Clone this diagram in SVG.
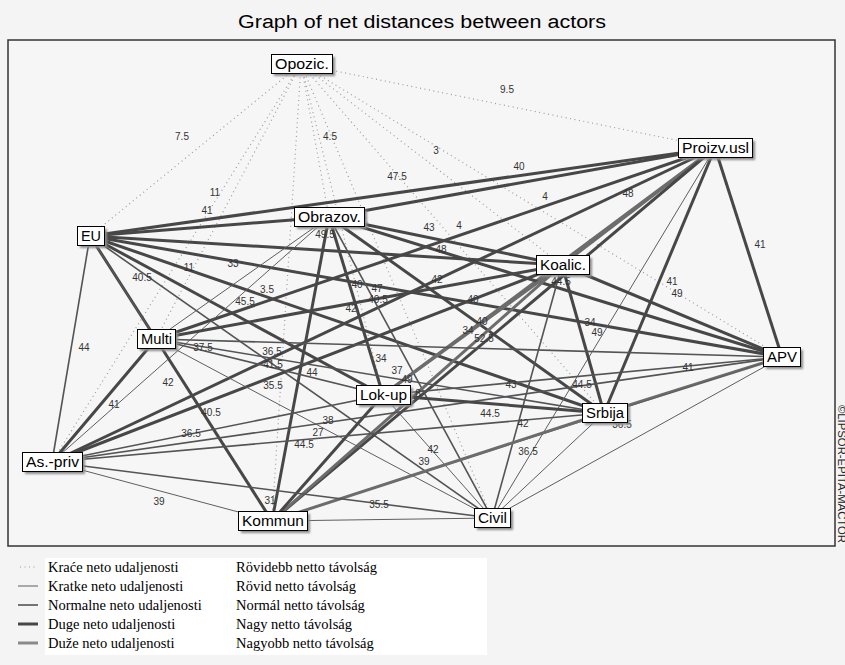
<svg xmlns="http://www.w3.org/2000/svg" width="845" height="665" viewBox="0 0 845 665">
<defs>
<style>
.d{stroke:#9c9c9c;stroke-width:1.2;stroke-dasharray:1 3.5;fill:none}
.t{stroke:#5e5e5e;stroke-width:1;fill:none}
.n{stroke:#545454;stroke-width:1.6;fill:none}
.k{stroke:#474747;stroke-width:3;fill:none}
.g{stroke:#6c6c6c;stroke-width:3;fill:none}
.lb{font-family:"Liberation Sans",Arial,sans-serif;font-size:10px;fill:#333;text-anchor:middle}
.nb rect.b{fill:#fff;stroke:#000;stroke-width:1}
.nb rect.s{fill:#8c8c8c;filter:url(#bl)}
.nb text{font-family:"Liberation Sans",Arial,sans-serif;font-size:14px;fill:#000}
.lg{font-family:"Liberation Serif","Times New Roman",serif;font-size:14.5px;fill:#000}
</style>
<filter id="bl" x="-20%" y="-40%" width="140%" height="180%"><feGaussianBlur stdDeviation="0.8"/></filter>
</defs>
<rect x="0" y="0" width="845" height="665" fill="#f4f4f4"/>
<text x="422" y="28" font-family="Liberation Sans,Arial,sans-serif" font-size="18" text-anchor="middle" textLength="368" lengthAdjust="spacingAndGlyphs" fill="#000">Graph of net distances between actors</text>
<rect x="8" y="40" width="827" height="506" fill="#f6f6f6" stroke="#333" stroke-width="1.5"/>
<g id="connectors">
<line class="d" x1="301" y1="64" x2="715" y2="148"/>
<line class="d" x1="301" y1="64" x2="90" y2="236"/>
<line class="d" x1="301" y1="64" x2="329" y2="217"/>
<line class="d" x1="301" y1="64" x2="562" y2="265"/>
<line class="d" x1="301" y1="64" x2="156" y2="339"/>
<line class="d" x1="301" y1="64" x2="782" y2="357"/>
<line class="d" x1="301" y1="64" x2="383" y2="395"/>
<line class="d" x1="301" y1="64" x2="604" y2="413"/>
<line class="d" x1="301" y1="64" x2="52" y2="462"/>
<line class="d" x1="301" y1="64" x2="272" y2="521"/>
<line class="d" x1="301" y1="64" x2="492" y2="518"/>
<line class="k" x1="90" y1="236" x2="715" y2="148"/>
<line class="k" x1="90" y1="236" x2="329" y2="217"/>
<line class="k" x1="90" y1="236" x2="562" y2="265"/>
<line class="k" x1="90" y1="236" x2="156" y2="339"/>
<line class="k" x1="90" y1="236" x2="782" y2="357"/>
<line class="k" x1="90" y1="236" x2="383" y2="395"/>
<line class="k" x1="90" y1="236" x2="604" y2="413"/>
<line class="n" x1="90" y1="236" x2="52" y2="462"/>
<line class="t" x1="90" y1="236" x2="272" y2="521"/>
<line class="n" x1="90" y1="236" x2="492" y2="518"/>
<line class="k" x1="715" y1="148" x2="329" y2="217"/>
<line class="g" x1="715" y1="148" x2="562" y2="265"/>
<line class="k" x1="715" y1="148" x2="156" y2="339"/>
<line class="k" x1="715" y1="148" x2="782" y2="357"/>
<line class="g" x1="715" y1="148" x2="383" y2="395"/>
<line class="k" x1="715" y1="148" x2="604" y2="413"/>
<line class="k" x1="715" y1="148" x2="52" y2="462"/>
<line class="k" x1="715" y1="148" x2="272" y2="521"/>
<line class="t" x1="715" y1="148" x2="492" y2="518"/>
<line class="k" x1="329" y1="217" x2="562" y2="265"/>
<line class="t" x1="329" y1="217" x2="156" y2="339"/>
<line class="k" x1="329" y1="217" x2="782" y2="357"/>
<line class="k" x1="329" y1="217" x2="383" y2="395"/>
<line class="k" x1="329" y1="217" x2="604" y2="413"/>
<line class="t" x1="329" y1="217" x2="52" y2="462"/>
<line class="k" x1="329" y1="217" x2="272" y2="521"/>
<line class="n" x1="329" y1="217" x2="492" y2="518"/>
<line class="k" x1="562" y1="265" x2="156" y2="339"/>
<line class="k" x1="562" y1="265" x2="782" y2="357"/>
<line class="g" x1="562" y1="265" x2="383" y2="395"/>
<line class="k" x1="562" y1="265" x2="604" y2="413"/>
<line class="k" x1="562" y1="265" x2="52" y2="462"/>
<line class="g" x1="562" y1="265" x2="272" y2="521"/>
<line class="n" x1="562" y1="265" x2="492" y2="518"/>
<line class="n" x1="156" y1="339" x2="782" y2="357"/>
<line class="n" x1="156" y1="339" x2="383" y2="395"/>
<line class="n" x1="156" y1="339" x2="604" y2="413"/>
<line class="k" x1="156" y1="339" x2="52" y2="462"/>
<line class="k" x1="156" y1="339" x2="272" y2="521"/>
<line class="t" x1="156" y1="339" x2="492" y2="518"/>
<line class="n" x1="782" y1="357" x2="383" y2="395"/>
<line class="g" x1="782" y1="357" x2="604" y2="413"/>
<line class="n" x1="782" y1="357" x2="52" y2="462"/>
<line class="t" x1="782" y1="357" x2="272" y2="521"/>
<line class="t" x1="782" y1="357" x2="492" y2="518"/>
<line class="k" x1="383" y1="395" x2="604" y2="413"/>
<line class="n" x1="383" y1="395" x2="52" y2="462"/>
<line class="k" x1="383" y1="395" x2="272" y2="521"/>
<line class="t" x1="383" y1="395" x2="492" y2="518"/>
<line class="n" x1="604" y1="413" x2="52" y2="462"/>
<line class="g" x1="604" y1="413" x2="272" y2="521"/>
<line class="t" x1="604" y1="413" x2="492" y2="518"/>
<line class="t" x1="52" y1="462" x2="272" y2="521"/>
<line class="n" x1="52" y1="462" x2="492" y2="518"/>
<line class="t" x1="272" y1="521" x2="492" y2="518"/>
</g>
<g id="edge-labels">
<text class="lb" x="182" y="140">7.5</text>
<text class="lb" x="507" y="93">9.5</text>
<text class="lb" x="330" y="140">4.5</text>
<text class="lb" x="397" y="180">47.5</text>
<text class="lb" x="436" y="154">3</text>
<text class="lb" x="519" y="170">40</text>
<text class="lb" x="215" y="196">11</text>
<text class="lb" x="207" y="214">41</text>
<text class="lb" x="545" y="200">4</text>
<text class="lb" x="628" y="197">48</text>
<text class="lb" x="429" y="231">43</text>
<text class="lb" x="459" y="229">4</text>
<text class="lb" x="441" y="253">48</text>
<text class="lb" x="325" y="238">49.5</text>
<text class="lb" x="760" y="248">41</text>
<text class="lb" x="142" y="281">40.5</text>
<text class="lb" x="189" y="271">11</text>
<text class="lb" x="233" y="267">33</text>
<text class="lb" x="267" y="293">3.5</text>
<text class="lb" x="245" y="305">45.5</text>
<text class="lb" x="357" y="288">40</text>
<text class="lb" x="377" y="292">47</text>
<text class="lb" x="378" y="303">40.5</text>
<text class="lb" x="351" y="312">42</text>
<text class="lb" x="437" y="283">42</text>
<text class="lb" x="561" y="285">44.5</text>
<text class="lb" x="473" y="303">40</text>
<text class="lb" x="482" y="325">40</text>
<text class="lb" x="468" y="334">34</text>
<text class="lb" x="484" y="342">52.5</text>
<text class="lb" x="672" y="285">41</text>
<text class="lb" x="677" y="297">49</text>
<text class="lb" x="590" y="326">34</text>
<text class="lb" x="597" y="336">49</text>
<text class="lb" x="84" y="351">44</text>
<text class="lb" x="203" y="351">37.5</text>
<text class="lb" x="272" y="355">36.5</text>
<text class="lb" x="273" y="368">41.5</text>
<text class="lb" x="273" y="389">35.5</text>
<text class="lb" x="312" y="376">44</text>
<text class="lb" x="381" y="362">34</text>
<text class="lb" x="397" y="374">37</text>
<text class="lb" x="407" y="383">49</text>
<text class="lb" x="418" y="397">8</text>
<text class="lb" x="688" y="371">41</text>
<text class="lb" x="511" y="388">43</text>
<text class="lb" x="582" y="388">44.5</text>
<text class="lb" x="168" y="386">42</text>
<text class="lb" x="114" y="408">41</text>
<text class="lb" x="211" y="416">40.5</text>
<text class="lb" x="490" y="417">44.5</text>
<text class="lb" x="328" y="424">38</text>
<text class="lb" x="523" y="427">42</text>
<text class="lb" x="622" y="428">36.5</text>
<text class="lb" x="191" y="437">36.5</text>
<text class="lb" x="318" y="436">27</text>
<text class="lb" x="304" y="448">44.5</text>
<text class="lb" x="433" y="453">42</text>
<text class="lb" x="528" y="455">36.5</text>
<text class="lb" x="424" y="465">39</text>
<text class="lb" x="159" y="505">39</text>
<text class="lb" x="270" y="504">31</text>
<text class="lb" x="379" y="508">35.5</text>
</g>
<g id="node-opozic" class="nb"><rect class="s" x="274" y="57" width="61" height="19"/><rect class="b" x="271.5" y="54.5" width="61" height="19"/><text x="275" y="69" textLength="54" lengthAdjust="spacingAndGlyphs">Opozic.</text></g>
<g id="node-proizv" class="nb"><rect class="s" x="681" y="141" width="74" height="19"/><rect class="b" x="678.5" y="138.5" width="74" height="19"/><text x="682" y="153" textLength="67" lengthAdjust="spacingAndGlyphs">Proizv.usl</text></g>
<g id="node-eu" class="nb"><rect class="s" x="80" y="229" width="27" height="19"/><rect class="b" x="77.5" y="226.5" width="27" height="19"/><text x="81" y="241" textLength="20" lengthAdjust="spacingAndGlyphs">EU</text></g>
<g id="node-obrazov" class="nb"><rect class="s" x="297" y="210" width="70" height="19"/><rect class="b" x="294.5" y="207.5" width="70" height="19"/><text x="298" y="222" textLength="63" lengthAdjust="spacingAndGlyphs">Obrazov.</text></g>
<g id="node-koalic" class="nb"><rect class="s" x="539" y="258" width="53" height="19"/><rect class="b" x="536.5" y="255.5" width="53" height="19"/><text x="540" y="270" textLength="46" lengthAdjust="spacingAndGlyphs">Koalic.</text></g>
<g id="node-multi" class="nb"><rect class="s" x="140" y="332" width="38" height="19"/><rect class="b" x="137.5" y="329.5" width="38" height="19"/><text x="141" y="344" textLength="31" lengthAdjust="spacingAndGlyphs">Multi</text></g>
<g id="node-apv" class="nb"><rect class="s" x="766" y="350" width="37" height="19"/><rect class="b" x="763.5" y="347.5" width="37" height="19"/><text x="767" y="362" textLength="30" lengthAdjust="spacingAndGlyphs">APV</text></g>
<g id="node-lokup" class="nb"><rect class="s" x="359" y="388" width="54" height="19"/><rect class="b" x="356.5" y="385.5" width="54" height="19"/><text x="360" y="400" textLength="47" lengthAdjust="spacingAndGlyphs">Lok-up</text></g>
<g id="node-srbija" class="nb"><rect class="s" x="585" y="406" width="45" height="19"/><rect class="b" x="582.5" y="403.5" width="45" height="19"/><text x="586" y="418" textLength="38" lengthAdjust="spacingAndGlyphs">Srbija</text></g>
<g id="node-aspriv" class="nb"><rect class="s" x="25" y="455" width="60" height="19"/><rect class="b" x="22.5" y="452.5" width="60" height="19"/><text x="26" y="467" textLength="53" lengthAdjust="spacingAndGlyphs">As.-priv</text></g>
<g id="node-kommun" class="nb"><rect class="s" x="241" y="514" width="69" height="19"/><rect class="b" x="238.5" y="511.5" width="69" height="19"/><text x="242" y="526" textLength="62" lengthAdjust="spacingAndGlyphs">Kommun</text></g>
<g id="node-civil" class="nb"><rect class="s" x="477" y="511" width="36" height="19"/><rect class="b" x="474.5" y="508.5" width="36" height="19"/><text x="478" y="523" textLength="29" lengthAdjust="spacingAndGlyphs">Civil</text></g>
<text transform="translate(838,405) rotate(90)" font-family="Liberation Sans,Arial,sans-serif" font-size="10" textLength="138" lengthAdjust="spacingAndGlyphs" fill="#222">©LIPSOR-EPITA-MACTOR</text>
<g id="legend">
<rect x="45" y="558" width="442" height="97" fill="#fff"/>
<line class="d" x1="20" y1="567" x2="38" y2="567"/>
<line class="t" x1="18" y1="586" x2="38" y2="586"/>
<line class="n" x1="18" y1="605" x2="38" y2="605"/>
<line class="k" x1="18" y1="624" x2="38" y2="624"/>
<line stroke="#8a8a8a" stroke-width="3" x1="18" y1="643" x2="38" y2="643"/>
<text class="lg" x="48" y="572">Kraće neto udaljenosti</text>
<text class="lg" x="48" y="591">Kratke neto udaljenosti</text>
<text class="lg" x="48" y="610">Normalne neto udaljenosti</text>
<text class="lg" x="48" y="629">Duge neto udaljenosti</text>
<text class="lg" x="48" y="648">Duže neto udaljenosti</text>
<text class="lg" x="236" y="572">Rövidebb netto távolság</text>
<text class="lg" x="236" y="591">Rövid netto távolság</text>
<text class="lg" x="236" y="610">Normál netto távolság</text>
<text class="lg" x="236" y="629">Nagy netto távolság</text>
<text class="lg" x="236" y="648">Nagyobb netto távolság</text>
</g>
</svg>
